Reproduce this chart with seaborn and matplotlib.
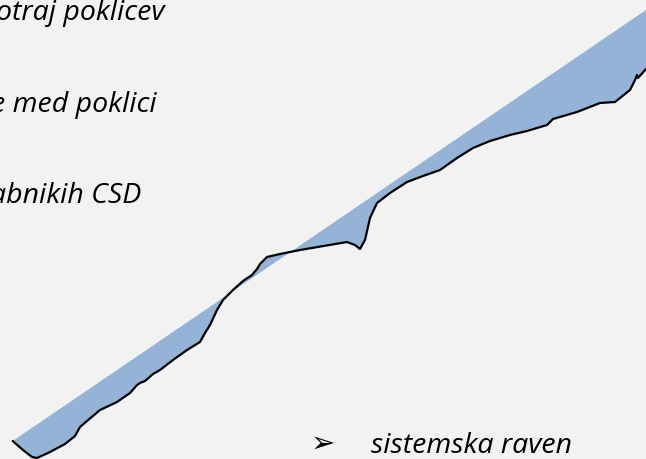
import matplotlib

matplotlib.use("Agg")
import matplotlib.pyplot as plt
import seaborn as sns

# Krivulja (v pikslih slike, y navzdol)
krivulja_x = [12.7, 23, 32, 37, 50, 65, 75, 80, 87, 100, 117, 130, 137, 140, 145,
              153, 160, 173, 187, 200, 205, 210, 217, 223, 233, 243, 252, 257, 260,
              267, 280, 300, 347, 355, 360, 365, 370, 377, 390, 407, 423, 440, 457,
              473, 490, 510, 527, 547, 553, 577, 600, 615, 630, 635, 637, 638, 646]
krivulja_y = [441, 450, 457, 458, 452, 444, 436, 427, 421, 410, 402, 393, 385, 383, 381,
              374, 370, 360, 350, 342, 333, 325, 310, 300, 290, 281, 275, 269, 264,
              257, 254, 250, 242, 245, 249, 240, 218, 203, 193, 182, 176, 170, 158,
              148, 141, 135, 131, 125, 119, 112, 103, 102, 90, 80, 75, 78, 69]

# Diagonala (enakomerna porazdelitev)
diagonala_x = [12.7, 646]
diagonala_y = [441, 10]

# Besedila
vrstice = ["otraj poklicev", "e med poklici", "abnikih CSD"]
vrstice_x = [165, 157, 141]
vrstice_y = [20, 112, 203]

sns.set_style("white")
plt.rcParams["font.family"] = ["Open Sans", "DejaVu Sans"]
plt.rcParams["text.color"] = "black"

fig = plt.figure(figsize=(6.46, 4.59), dpi=100)
fig.patch.set_facecolor("#F2F2F2")
ax = fig.add_axes([0, 0, 1, 1])
ax.set_facecolor("#F2F2F2")

# Ploskev med krivuljo in diagonalo
poly_x = krivulja_x + diagonala_x[::-1]
poly_y = krivulja_y + diagonala_y[::-1]
ax.fill(poly_x, poly_y, color="#95B3D7", linewidth=0)

sns.lineplot(x=krivulja_x, y=krivulja_y, sort=False, estimator=None,
             color="black", linewidth=1.6, ax=ax)

for t, x, y in zip(vrstice, vrstice_x, vrstice_y):
    ax.text(x, y, t, ha="right", va="baseline", fontsize=20.5, style="italic",
            color="black")

ax.text(323, 452, "\u27a2", ha="center", va="baseline", fontsize=21,
        family="DejaVu Sans", color="black")
ax.text(371, 453, "sistemska raven", ha="left", va="baseline",
        fontsize=20.5, style="italic", color="black")

ax.set_xlim(0, 646)
ax.set_ylim(459, 0)
ax.axis("off")

plt.savefig("out.png", dpi=100, facecolor=fig.get_facecolor())
plt.close()
